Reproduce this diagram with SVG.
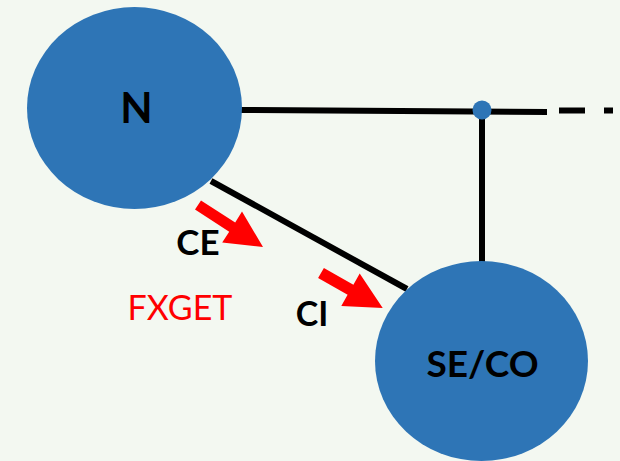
<svg xmlns="http://www.w3.org/2000/svg" width="620" height="461" viewBox="0 0 620 461">
<style>
.node{fill:#2E75B6}
.lbl{font-family:Lato,"Open Sans","Liberation Sans",sans-serif;font-weight:bold;fill:#000;text-anchor:middle}
.wire{stroke:#000;stroke-width:6;fill:none}
.arr{fill:#FF0000}
</style>
<rect width="620" height="461" fill="#F3F8F1"/>
<g id="connectors">
<line class="wire" x1="240" y1="110" x2="547" y2="112"/>
<line class="wire" x1="559" y1="110.5" x2="585" y2="110.5"/>
<line class="wire" x1="604" y1="110.5" x2="613" y2="110.5"/>
<line class="wire" x1="482" y1="110" x2="482" y2="264"/>
<line class="wire" x1="211" y1="181" x2="407" y2="289"/>
</g>
<g id="node-N">
<ellipse class="node" cx="134.5" cy="108" rx="107.5" ry="101"/>
<text class="lbl" x="136.5" y="123" font-size="42">N</text>
</g>
<g id="node-SECO">
<ellipse class="node" cx="481.5" cy="361" rx="106.5" ry="100"/>
<text class="lbl" x="482.5" y="377" font-size="37">SE/CO</text>
</g>
<g id="junction">
<circle class="node" cx="482" cy="110" r="9.5"/>
</g>
<g id="arrow-CE">
<polygon class="arr" points="201,200.4 235.2,222.5 242,211.5 263,247 222.2,242.6 229.2,231.7 195,209.6"/>
<text class="lbl" x="198" y="255" font-size="35">CE</text>
</g>
<g id="arrow-CI">
<polygon class="arr" points="323.9,268 353.4,284.7 359.7,273.4 382.7,308 341.3,306 347.6,294.7 318.1,278"/>
<text class="lbl" x="312" y="326" font-size="34">CI</text>
</g>
<text x="180" y="320" font-family="Lato,'Open Sans','Liberation Sans',sans-serif" font-size="34" fill="#FF0000" text-anchor="middle">FXGET</text>
</svg>
